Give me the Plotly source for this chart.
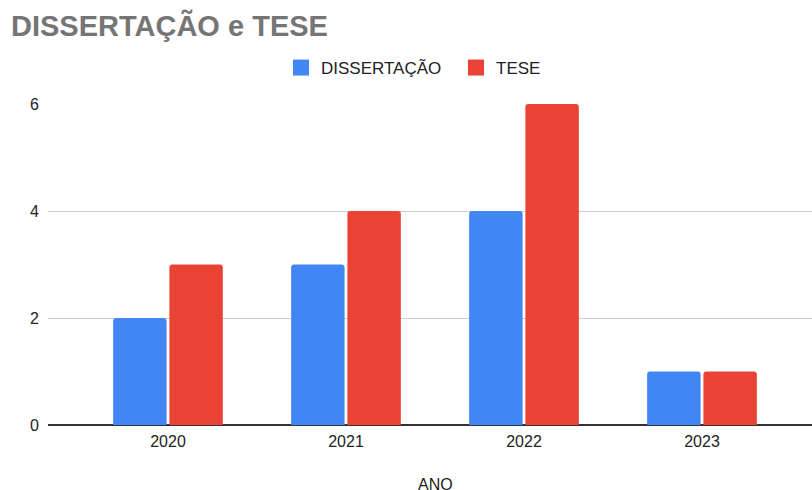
import plotly.graph_objects as go

anos = ["2020", "2021", "2022", "2023"]
dissertacao = [2, 3, 4, 1]
tese = [3, 4, 6, 1]
series_names = ["DISSERTAÇÃO", "TESE"]
colors = ["#4285f4", "#ea4335"]
x_title = "ANO"

FONT = "Arial, Liberation Sans, sans-serif"

fig = go.Figure()
for name, vals, col in zip(series_names, [dissertacao, tese], colors):
    fig.add_trace(go.Bar(x=anos, y=vals, name=name, marker_color=col, marker_line_width=0,
                         showlegend=False, legendgroup=name))
for name, col in zip(series_names, colors):
    fig.add_trace(go.Scatter(x=[None], y=[None], mode="markers", name=name, legendgroup=name,
                             marker=dict(symbol="square", size=16, color=col)))

fig.update_layout(
    width=812, height=490,
    margin=dict(l=48, r=0, t=104, b=65, autoexpand=False),
    paper_bgcolor="white", plot_bgcolor="white",
    font=dict(family=FONT, size=16, color="#222222"),
    barmode="group", bargap=0.368, bargroupgap=0.05,
    barcornerradius=3,
    title=dict(text="<b>DISSERTAÇÃO e TESE</b>", font=dict(family=FONT, size=29, color="#757575"),
               xref="container", yref="container", x=11/812, xanchor="left", y=1-16/490, yanchor="top"),
    legend=dict(orientation="h", xref="container", yref="container", x=281/812, xanchor="left",
                y=1-68/490, yanchor="middle", font=dict(size=17, color="#222222"),
                entrywidth=130, itemsizing="trace", bgcolor="rgba(0,0,0,0)"),
    xaxis=dict(type="category", range=[-0.674, 3.618], showgrid=False, showline=False,
               ticks="", tickfont=dict(size=16, color="#222222"), automargin=False,
               ticklabelstandoff=5),
    yaxis=dict(range=[0, 6], tickvals=[0, 2, 4, 6], showgrid=True, gridcolor="#cccccc", gridwidth=1,
               zeroline=True, zerolinecolor="#333333", zerolinewidth=1.5, showline=False,
               automargin=False,
               tickfont=dict(size=16, color="#222222"), ticks="", ticklabelstandoff=8),
    annotations=[dict(text=x_title, xref="paper", yref="paper", x=(435-48)/764, xanchor="center",
                      y=(425-474)/321, yanchor="top", showarrow=False,
                      font=dict(size=16, color="#222222"))],
)
fig.write_html("out.html", config={"displayModeBar": False},
               post_script="document.body.style.margin='0';")
